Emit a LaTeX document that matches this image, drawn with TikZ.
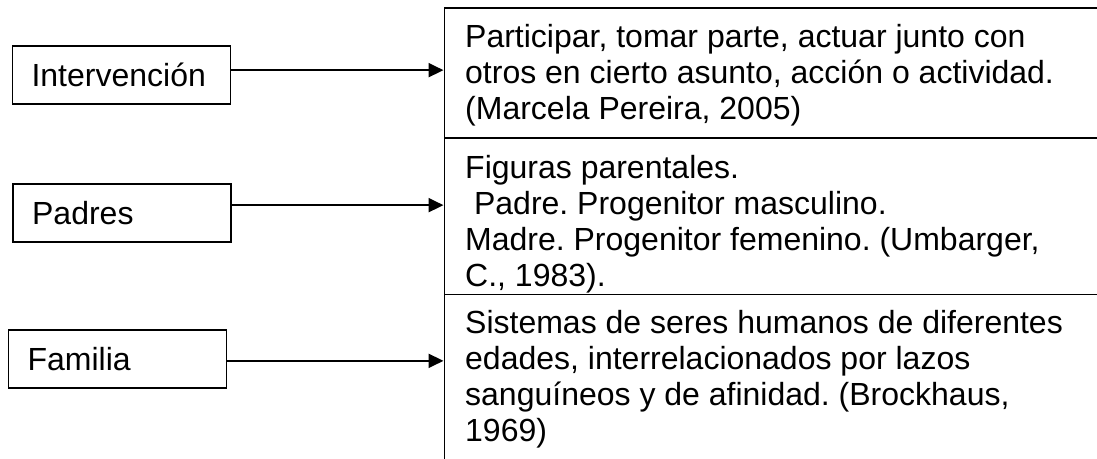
\documentclass[tikz,border=0pt]{standalone}
\usepackage{fontspec}
\setmainfont{Liberation Sans}
\usetikzlibrary{arrows.meta}
\frenchspacing
\newcommand\mylines[1]{\vtop{\baselineskip=36.2pt\lineskiplimit=-100pt\lineskip=0pt #1}}
\begin{document}
\begin{tikzpicture}[x=1pt,y=-1pt,
  lbox/.style={draw, line width=1.7pt, anchor=north west, minimum width=218pt,
    minimum height=58pt, text width=180pt, inner xsep=19pt, inner ysep=0pt,
    align=left, text height=23pt, text depth=0pt, font=\fontsize{32}{36.2}\selectfont\frenchspacing},
  rbox/.style={draw, line width=1.9pt, anchor=north west, minimum width=700pt, inner sep=0pt},
  txt/.style={anchor=base west, inner sep=0pt, font=\fontsize{32}{36.2}\selectfont\frenchspacing},
  arr/.style={line width=2pt, -{Triangle[length=15pt,width=14pt]}}]
\useasboundingbox (0,0) rectangle (1097,458);
\clip (0,0) rectangle (1097,458);
% right boxes
\node[rbox, minimum height=129.7pt] (b1) at (443.5,7.3) {};
\node[rbox, minimum height=156.5pt] (b2) at (443.5,137) {};
\node[rbox, minimum height=200pt] (b3) at (443.5,293.5) {};
% texts
\node[txt] (t1) at (465,47) {\mylines{\hbox{Participar, tomar parte, actuar junto con}\hbox{otros en cierto asunto, acción o actividad.}\hbox{(Marcela Pereira, 2005)}}};
\node[txt] (t2) at (465,178) {\mylines{\hbox{Figuras parentales.}\hbox{\ Padre. Progenitor masculino.}\hbox{Madre. Progenitor femenino. (Umbarger,}\hbox{C., 1983).}}};
\node[txt] (t3) at (465,333) {\mylines{\hbox{Sistemas de seres humanos de diferentes}\hbox{edades, interrelacionados por lazos}\hbox{sanguíneos y de afinidad. (Brockhaus,}\hbox{1969)}}};
% left boxes
\node[lbox] (l1) at (11.7,45) {Intervención};
\node[lbox] (l2) at (12.3,183.3) {Padres};
\node[lbox] (l3) at (7.7,329.3) {Familia};
% arrows
\draw[arr] ([yshift=4.7pt]l1.east) -- ([yshift=4.7pt]l1.east -| b1.west);
\draw[arr] ([yshift=8pt]l2.east) -- ([yshift=8pt]l2.east -| b2.west);
\draw[arr] ([yshift=-1.7pt]l3.east) -- ([yshift=-1.7pt]l3.east -| b3.west);
\end{tikzpicture}
\end{document}
